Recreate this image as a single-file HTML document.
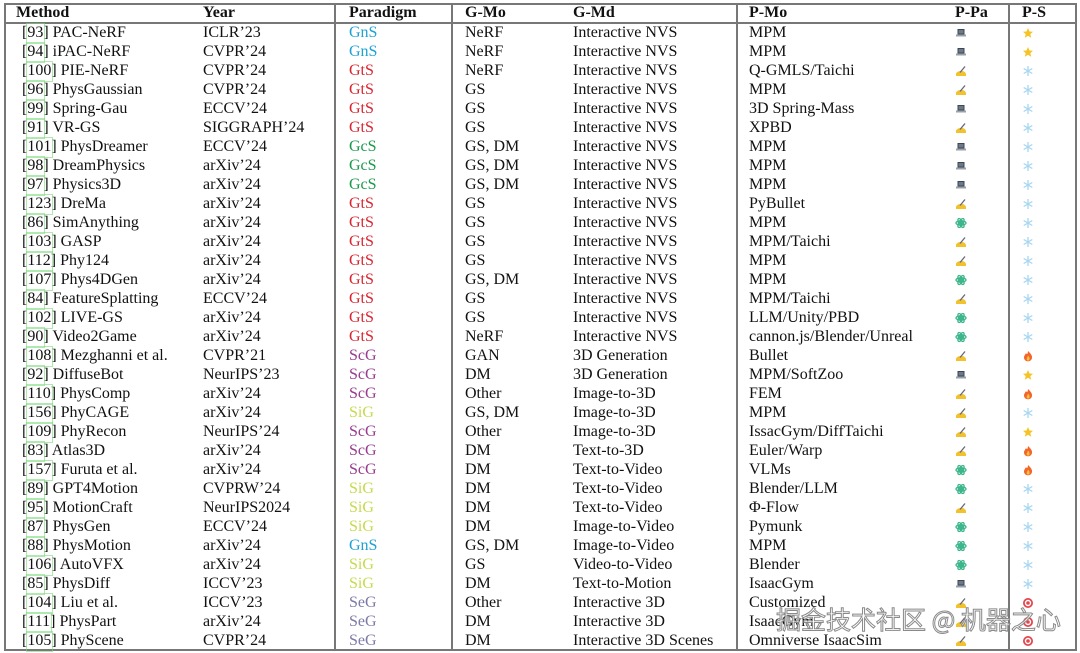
<!DOCTYPE html>
<html><head><meta charset="utf-8">
<style>
html,body{margin:0;padding:0;background:#fff;}
body{width:1080px;height:653px;position:relative;overflow:hidden;font-family:"Liberation Serif","Noto Serif CJK SC",serif;font-size:16px;color:#111;}
.r{position:absolute;left:0;width:1080px;height:19px;line-height:19px;}
.r span{position:absolute;white-space:nowrap;top:0;}
.h{font-weight:bold;top:3px;height:20px;line-height:20px;}
.a{left:22px}.b{left:203px}.c{left:349px}.d{left:465px}.e{left:573px}.f{left:749px}
.g{left:955px;top:4px!important}.s{left:1022px;top:4px!important}
.cb{display:inline-block;position:relative;}
.cb:after{content:"";position:absolute;left:-1px;right:-2px;top:0;height:19px;border:1px solid rgba(120,220,120,0.6);}
.GnS{color:#1ea2d4}.GtS{color:#d9252f}.GcS{color:#1b9a4c}.ScG{color:#983c8e}.SiG{color:#c6da4c}.SeG{color:#7c7ba8}
.line{position:absolute;background:#777;}
svg.i{width:12px;height:12px;display:block;}
.wm{position:absolute;left:776px;top:604px;font-family:"Noto Sans CJK SC","WenQuanYi Zen Hei",sans-serif;font-size:25px;color:rgba(255,255,255,0.75);-webkit-text-stroke:1px #8a8a8a;white-space:nowrap;line-height:30px;}
</style></head><body>
<svg width="0" height="0" style="position:absolute">
<defs>
<g id="lap"><rect x="2.5" y="2" width="7" height="5.5" fill="#3f4650"/><rect x="3.5" y="3" width="5" height="3.5" fill="#6b7a8a"/><rect x="1" y="7.5" width="10" height="2" fill="#9aa0a8"/></g>
<g id="hand"><path d="M1 8.5 Q3 6 5 6.2 L8 6 Q10.5 7 11 9 L11 11 L1 11 Z" fill="#f2c12e"/><path d="M5 7.5 L10 1.5" stroke="#667" stroke-width="1.3"/></g>
<g id="atom" fill="none" stroke="#3cb68a" stroke-width="1.3"><ellipse cx="6" cy="6" rx="5" ry="2.1"/><ellipse cx="6" cy="6" rx="5" ry="2.1" transform="rotate(60 6 6)"/><ellipse cx="6" cy="6" rx="5" ry="2.1" transform="rotate(-60 6 6)"/><circle cx="6" cy="6" r="1.3" fill="#3cb68a"/></g>
<g id="snow" stroke="#a6d6f2" stroke-width="1.3"><path d="M6 1 V11 M1.7 3.5 L10.3 8.5 M1.7 8.5 L10.3 3.5"/></g>
<g id="star"><path d="M6 1 L7.5 4.5 L11 4.7 L8.3 7.1 L9.2 10.8 L6 8.8 L2.8 10.8 L3.7 7.1 L1 4.7 L4.5 4.5 Z" fill="#f6c324"/></g>
<g id="fire"><path d="M6 1 C8.5 3.5 10.5 5.5 10 8 C9.5 10.5 7.5 11.3 6 11.3 C4 11.3 2 10 2 7.5 C2 5.5 3.5 4.5 4 3 C5 4.5 5.5 5 6 1 Z" fill="#f2652b"/><path d="M6 5.5 C7.5 7 8 8.5 7.3 10 C6.5 11 5 10.8 4.7 9.5 C4.5 8.3 5.5 7.5 6 5.5 Z" fill="#f7c23a"/></g>
<g id="tgt"><circle cx="6" cy="6" r="5" fill="#e4474d"/><circle cx="6" cy="6" r="3.2" fill="#fff"/><circle cx="6" cy="6" r="1.8" fill="#e4474d"/></g>
</defs></svg>

<div class="line" style="left:4px;top:3px;width:1072px;height:2px;"></div>
<div class="line" style="left:4px;top:649px;width:1072px;height:2px;"></div>
<div class="line" style="left:4px;top:3px;width:2px;height:648px;"></div>
<div class="line" style="left:1075px;top:3px;width:2px;height:648px;"></div>
<div class="line" style="left:4px;top:22px;width:1072px;height:1.5px;"></div>
<div class="line" style="left:334px;top:3px;width:1.5px;height:648px;"></div>
<div class="line" style="left:451px;top:3px;width:1.5px;height:648px;"></div>
<div class="line" style="left:736px;top:3px;width:1.5px;height:648px;"></div>
<div class="line" style="left:1008px;top:3px;width:1.5px;height:648px;"></div>

<div class="r h"><span style="left:16px">Method</span><span class="b">Year</span><span class="c">Paradigm</span><span class="d">G-Mo</span><span class="e">G-Md</span><span class="f">P-Mo</span><span style="left:955px">P-Pa</span><span style="left:1022px">P-S</span></div>

<div class="r" style="top:23px"><span class="a">[<i class="cb" style="font-style:normal">93</i>] PAC-NeRF</span><span class="b">ICLR’23</span><span class="c GnS">GnS</span><span class="d">NeRF</span><span class="e">Interactive NVS</span><span class="f">MPM</span><span class="g"><svg class="i"><use href="#lap"/></svg></span><span class="s"><svg class="i"><use href="#star"/></svg></span></div>
<div class="r" style="top:42px"><span class="a">[<i class="cb" style="font-style:normal">94</i>] iPAC-NeRF</span><span class="b">CVPR’24</span><span class="c GnS">GnS</span><span class="d">NeRF</span><span class="e">Interactive NVS</span><span class="f">MPM</span><span class="g"><svg class="i"><use href="#lap"/></svg></span><span class="s"><svg class="i"><use href="#star"/></svg></span></div>
<div class="r" style="top:61px"><span class="a">[<i class="cb" style="font-style:normal">100</i>] PIE-NeRF</span><span class="b">CVPR’24</span><span class="c GtS">GtS</span><span class="d">NeRF</span><span class="e">Interactive NVS</span><span class="f">Q-GMLS/Taichi</span><span class="g"><svg class="i"><use href="#hand"/></svg></span><span class="s"><svg class="i"><use href="#snow"/></svg></span></div>
<div class="r" style="top:80px"><span class="a">[<i class="cb" style="font-style:normal">96</i>] PhysGaussian</span><span class="b">CVPR’24</span><span class="c GtS">GtS</span><span class="d">GS</span><span class="e">Interactive NVS</span><span class="f">MPM</span><span class="g"><svg class="i"><use href="#hand"/></svg></span><span class="s"><svg class="i"><use href="#snow"/></svg></span></div>
<div class="r" style="top:99px"><span class="a">[<i class="cb" style="font-style:normal">99</i>] Spring-Gau</span><span class="b">ECCV’24</span><span class="c GtS">GtS</span><span class="d">GS</span><span class="e">Interactive NVS</span><span class="f">3D Spring-Mass</span><span class="g"><svg class="i"><use href="#lap"/></svg></span><span class="s"><svg class="i"><use href="#snow"/></svg></span></div>
<div class="r" style="top:118px"><span class="a">[<i class="cb" style="font-style:normal">91</i>] VR-GS</span><span class="b">SIGGRAPH’24</span><span class="c GtS">GtS</span><span class="d">GS</span><span class="e">Interactive NVS</span><span class="f">XPBD</span><span class="g"><svg class="i"><use href="#hand"/></svg></span><span class="s"><svg class="i"><use href="#snow"/></svg></span></div>
<div class="r" style="top:137px"><span class="a">[<i class="cb" style="font-style:normal">101</i>] PhysDreamer</span><span class="b">ECCV’24</span><span class="c GcS">GcS</span><span class="d">GS, DM</span><span class="e">Interactive NVS</span><span class="f">MPM</span><span class="g"><svg class="i"><use href="#lap"/></svg></span><span class="s"><svg class="i"><use href="#snow"/></svg></span></div>
<div class="r" style="top:156px"><span class="a">[<i class="cb" style="font-style:normal">98</i>] DreamPhysics</span><span class="b">arXiv’24</span><span class="c GcS">GcS</span><span class="d">GS, DM</span><span class="e">Interactive NVS</span><span class="f">MPM</span><span class="g"><svg class="i"><use href="#lap"/></svg></span><span class="s"><svg class="i"><use href="#snow"/></svg></span></div>
<div class="r" style="top:175px"><span class="a">[<i class="cb" style="font-style:normal">97</i>] Physics3D</span><span class="b">arXiv’24</span><span class="c GcS">GcS</span><span class="d">GS, DM</span><span class="e">Interactive NVS</span><span class="f">MPM</span><span class="g"><svg class="i"><use href="#lap"/></svg></span><span class="s"><svg class="i"><use href="#snow"/></svg></span></div>
<div class="r" style="top:194px"><span class="a">[<i class="cb" style="font-style:normal">123</i>] DreMa</span><span class="b">arXiv’24</span><span class="c GtS">GtS</span><span class="d">GS</span><span class="e">Interactive NVS</span><span class="f">PyBullet</span><span class="g"><svg class="i"><use href="#hand"/></svg></span><span class="s"><svg class="i"><use href="#snow"/></svg></span></div>
<div class="r" style="top:213px"><span class="a">[<i class="cb" style="font-style:normal">86</i>] SimAnything</span><span class="b">arXiv’24</span><span class="c GtS">GtS</span><span class="d">GS</span><span class="e">Interactive NVS</span><span class="f">MPM</span><span class="g"><svg class="i"><use href="#atom"/></svg></span><span class="s"><svg class="i"><use href="#snow"/></svg></span></div>
<div class="r" style="top:232px"><span class="a">[<i class="cb" style="font-style:normal">103</i>] GASP</span><span class="b">arXiv’24</span><span class="c GtS">GtS</span><span class="d">GS</span><span class="e">Interactive NVS</span><span class="f">MPM/Taichi</span><span class="g"><svg class="i"><use href="#hand"/></svg></span><span class="s"><svg class="i"><use href="#snow"/></svg></span></div>
<div class="r" style="top:251px"><span class="a">[<i class="cb" style="font-style:normal">112</i>] Phy124</span><span class="b">arXiv’24</span><span class="c GtS">GtS</span><span class="d">GS</span><span class="e">Interactive NVS</span><span class="f">MPM</span><span class="g"><svg class="i"><use href="#hand"/></svg></span><span class="s"><svg class="i"><use href="#snow"/></svg></span></div>
<div class="r" style="top:270px"><span class="a">[<i class="cb" style="font-style:normal">107</i>] Phys4DGen</span><span class="b">arXiv’24</span><span class="c GtS">GtS</span><span class="d">GS, DM</span><span class="e">Interactive NVS</span><span class="f">MPM</span><span class="g"><svg class="i"><use href="#atom"/></svg></span><span class="s"><svg class="i"><use href="#snow"/></svg></span></div>
<div class="r" style="top:289px"><span class="a">[<i class="cb" style="font-style:normal">84</i>] FeatureSplatting</span><span class="b">ECCV’24</span><span class="c GtS">GtS</span><span class="d">GS</span><span class="e">Interactive NVS</span><span class="f">MPM/Taichi</span><span class="g"><svg class="i"><use href="#hand"/></svg></span><span class="s"><svg class="i"><use href="#snow"/></svg></span></div>
<div class="r" style="top:308px"><span class="a">[<i class="cb" style="font-style:normal">102</i>] LIVE-GS</span><span class="b">arXiv’24</span><span class="c GtS">GtS</span><span class="d">GS</span><span class="e">Interactive NVS</span><span class="f">LLM/Unity/PBD</span><span class="g"><svg class="i"><use href="#atom"/></svg></span><span class="s"><svg class="i"><use href="#snow"/></svg></span></div>
<div class="r" style="top:327px"><span class="a">[<i class="cb" style="font-style:normal">90</i>] Video2Game</span><span class="b">arXiv’24</span><span class="c GtS">GtS</span><span class="d">NeRF</span><span class="e">Interactive NVS</span><span class="f">cannon.js/Blender/Unreal</span><span class="g"><svg class="i"><use href="#atom"/></svg></span><span class="s"><svg class="i"><use href="#snow"/></svg></span></div>
<div class="r" style="top:346px"><span class="a">[<i class="cb" style="font-style:normal">108</i>] Mezghanni et al.</span><span class="b">CVPR’21</span><span class="c ScG">ScG</span><span class="d">GAN</span><span class="e">3D Generation</span><span class="f">Bullet</span><span class="g"><svg class="i"><use href="#hand"/></svg></span><span class="s"><svg class="i"><use href="#fire"/></svg></span></div>
<div class="r" style="top:365px"><span class="a">[<i class="cb" style="font-style:normal">92</i>] DiffuseBot</span><span class="b">NeurIPS’23</span><span class="c ScG">ScG</span><span class="d">DM</span><span class="e">3D Generation</span><span class="f">MPM/SoftZoo</span><span class="g"><svg class="i"><use href="#lap"/></svg></span><span class="s"><svg class="i"><use href="#star"/></svg></span></div>
<div class="r" style="top:384px"><span class="a">[<i class="cb" style="font-style:normal">110</i>] PhysComp</span><span class="b">arXiv’24</span><span class="c ScG">ScG</span><span class="d">Other</span><span class="e">Image-to-3D</span><span class="f">FEM</span><span class="g"><svg class="i"><use href="#hand"/></svg></span><span class="s"><svg class="i"><use href="#fire"/></svg></span></div>
<div class="r" style="top:403px"><span class="a">[<i class="cb" style="font-style:normal">156</i>] PhyCAGE</span><span class="b">arXiv’24</span><span class="c SiG">SiG</span><span class="d">GS, DM</span><span class="e">Image-to-3D</span><span class="f">MPM</span><span class="g"><svg class="i"><use href="#hand"/></svg></span><span class="s"><svg class="i"><use href="#snow"/></svg></span></div>
<div class="r" style="top:422px"><span class="a">[<i class="cb" style="font-style:normal">109</i>] PhyRecon</span><span class="b">NeurIPS’24</span><span class="c ScG">ScG</span><span class="d">Other</span><span class="e">Image-to-3D</span><span class="f">IssacGym/DiffTaichi</span><span class="g"><svg class="i"><use href="#hand"/></svg></span><span class="s"><svg class="i"><use href="#star"/></svg></span></div>
<div class="r" style="top:441px"><span class="a">[<i class="cb" style="font-style:normal">83</i>] Atlas3D</span><span class="b">arXiv’24</span><span class="c ScG">ScG</span><span class="d">DM</span><span class="e">Text-to-3D</span><span class="f">Euler/Warp</span><span class="g"><svg class="i"><use href="#hand"/></svg></span><span class="s"><svg class="i"><use href="#fire"/></svg></span></div>
<div class="r" style="top:460px"><span class="a">[<i class="cb" style="font-style:normal">157</i>] Furuta et al.</span><span class="b">arXiv’24</span><span class="c ScG">ScG</span><span class="d">DM</span><span class="e">Text-to-Video</span><span class="f">VLMs</span><span class="g"><svg class="i"><use href="#atom"/></svg></span><span class="s"><svg class="i"><use href="#fire"/></svg></span></div>
<div class="r" style="top:479px"><span class="a">[<i class="cb" style="font-style:normal">89</i>] GPT4Motion</span><span class="b">CVPRW’24</span><span class="c SiG">SiG</span><span class="d">DM</span><span class="e">Text-to-Video</span><span class="f">Blender/LLM</span><span class="g"><svg class="i"><use href="#atom"/></svg></span><span class="s"><svg class="i"><use href="#snow"/></svg></span></div>
<div class="r" style="top:498px"><span class="a">[<i class="cb" style="font-style:normal">95</i>] MotionCraft</span><span class="b">NeurIPS2024</span><span class="c SiG">SiG</span><span class="d">DM</span><span class="e">Text-to-Video</span><span class="f">Φ-Flow</span><span class="g"><svg class="i"><use href="#hand"/></svg></span><span class="s"><svg class="i"><use href="#snow"/></svg></span></div>
<div class="r" style="top:517px"><span class="a">[<i class="cb" style="font-style:normal">87</i>] PhysGen</span><span class="b">ECCV’24</span><span class="c SiG">SiG</span><span class="d">DM</span><span class="e">Image-to-Video</span><span class="f">Pymunk</span><span class="g"><svg class="i"><use href="#atom"/></svg></span><span class="s"><svg class="i"><use href="#snow"/></svg></span></div>
<div class="r" style="top:536px"><span class="a">[<i class="cb" style="font-style:normal">88</i>] PhysMotion</span><span class="b">arXiv’24</span><span class="c GnS">GnS</span><span class="d">GS, DM</span><span class="e">Image-to-Video</span><span class="f">MPM</span><span class="g"><svg class="i"><use href="#atom"/></svg></span><span class="s"><svg class="i"><use href="#snow"/></svg></span></div>
<div class="r" style="top:555px"><span class="a">[<i class="cb" style="font-style:normal">106</i>] AutoVFX</span><span class="b">arXiv’24</span><span class="c SiG">SiG</span><span class="d">GS</span><span class="e">Video-to-Video</span><span class="f">Blender</span><span class="g"><svg class="i"><use href="#atom"/></svg></span><span class="s"><svg class="i"><use href="#snow"/></svg></span></div>
<div class="r" style="top:574px"><span class="a">[<i class="cb" style="font-style:normal">85</i>] PhysDiff</span><span class="b">ICCV’23</span><span class="c SiG">SiG</span><span class="d">DM</span><span class="e">Text-to-Motion</span><span class="f">IsaacGym</span><span class="g"><svg class="i"><use href="#lap"/></svg></span><span class="s"><svg class="i"><use href="#snow"/></svg></span></div>
<div class="r" style="top:593px"><span class="a">[<i class="cb" style="font-style:normal">104</i>] Liu et al.</span><span class="b">ICCV’23</span><span class="c SeG">SeG</span><span class="d">Other</span><span class="e">Interactive 3D</span><span class="f">Customized</span><span class="g"><svg class="i"><use href="#hand"/></svg></span><span class="s"><svg class="i"><use href="#tgt"/></svg></span></div>
<div class="r" style="top:612px"><span class="a">[<i class="cb" style="font-style:normal">111</i>] PhysPart</span><span class="b">arXiv’24</span><span class="c SeG">SeG</span><span class="d">DM</span><span class="e">Interactive 3D</span><span class="f">IsaacGym</span><span class="g"><svg class="i"><use href="#hand"/></svg></span><span class="s"><svg class="i"><use href="#tgt"/></svg></span></div>
<div class="r" style="top:631px"><span class="a">[<i class="cb" style="font-style:normal">105</i>] PhyScene</span><span class="b">CVPR’24</span><span class="c SeG">SeG</span><span class="d">DM</span><span class="e">Interactive 3D Scenes</span><span class="f">Omniverse IsaacSim</span><span class="g"><svg class="i"><use href="#hand"/></svg></span><span class="s"><svg class="i"><use href="#tgt"/></svg></span></div>

<div class="wm">掘金技术社区 @ 机器之心</div>
</body></html>
